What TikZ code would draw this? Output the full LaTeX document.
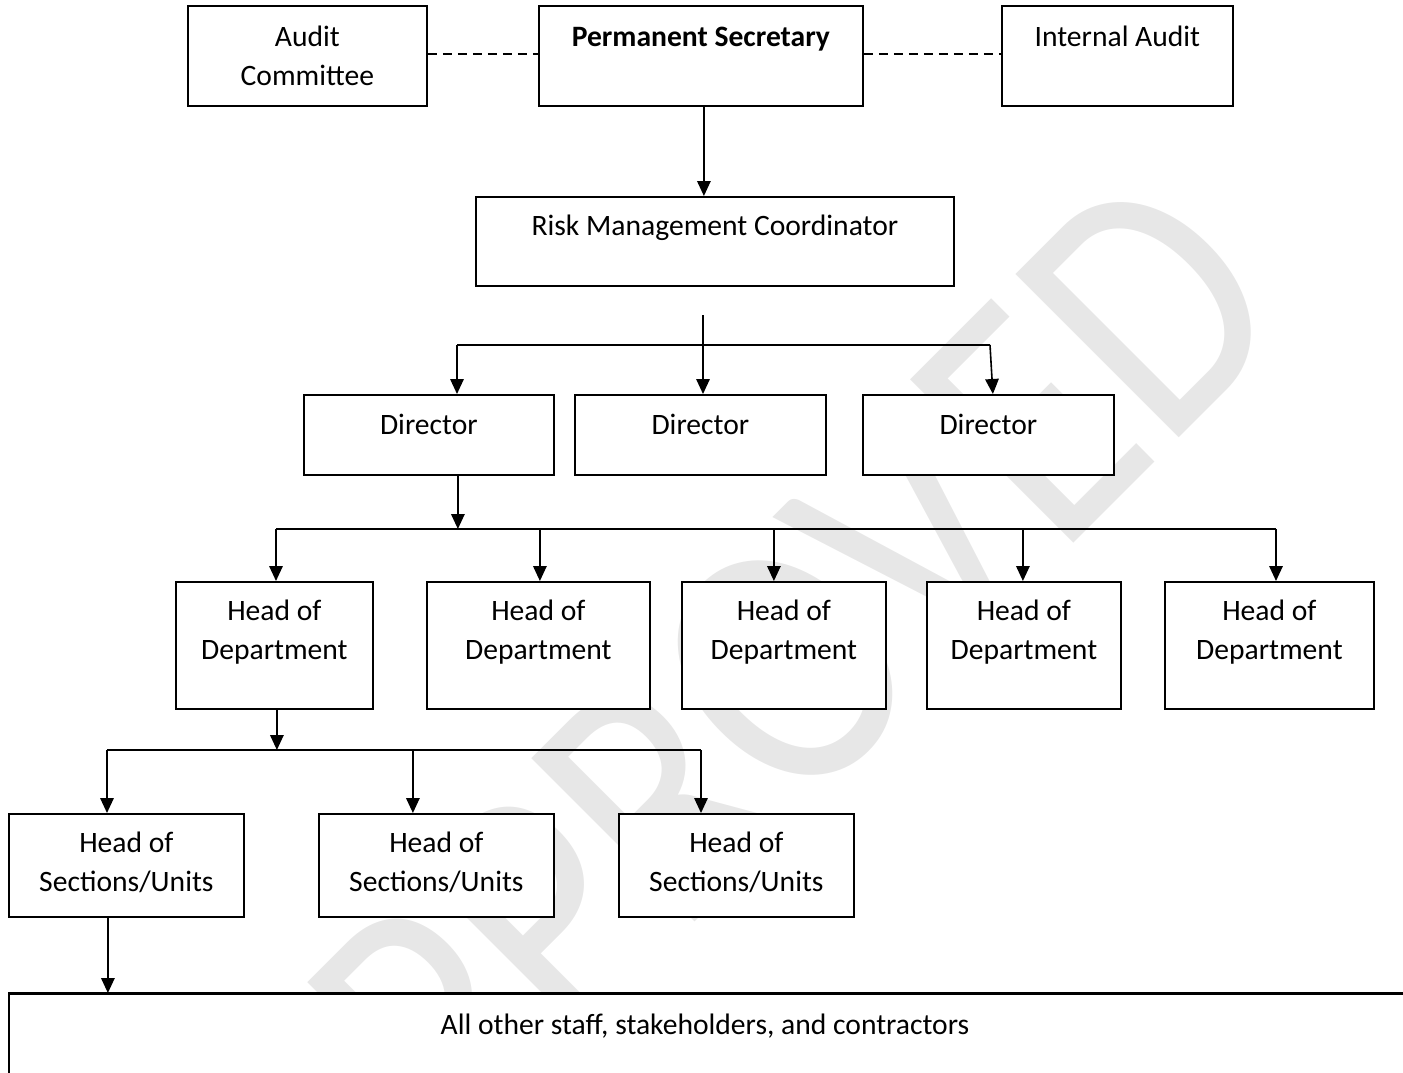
\documentclass[tikz,border=0pt]{standalone}
\usepackage{graphicx}
\usepackage{fontspec}
\setmainfont{Carlito}
\usetikzlibrary{arrows.meta}
\definecolor{wm}{RGB}{231,231,231}
\newcommand\twoln[2]{\begin{tabular}[t]{@{}c@{}}#1\\#2\end{tabular}}
\begin{document}
\begin{tikzpicture}[x=1pt,y=-1pt,
  box/.style={draw, line width=1.8pt, fill=white, inner sep=0pt, anchor=north west},
  lbl/.style={anchor=base, inner sep=0pt, font=\fontsize{29.6}{39}\selectfont},
  arr/.style={line width=1.6pt, -{Triangle[length=15pt,width=13.5pt]}},
  ln/.style={line width=1.6pt},
  dsh/.style={line width=1.6pt, dash pattern=on 9pt off 6pt}]
\useasboundingbox (0,0) rectangle (1403,1072);
\clip (0,0) rectangle (1403,1072);
% watermark
\node[font=\fontsize{360}{360}\selectfont, text=wm, rotate=45, anchor=base east, inner sep=0pt] (wmark) at (1297,320) {\scalebox{0.85}[1]{APPROVED}};
% boxes
\node[box, minimum width=239pt, minimum height=100pt] (ac) at (187,5) {};
\node[box, minimum width=324pt, minimum height=100pt] (ps) at (538,5) {};
\node[box, minimum width=231pt, minimum height=100pt] (ia) at (1001,5) {};
\node[box, minimum width=478pt, minimum height=89pt] (rmc) at (475,196) {};
\node[box, minimum width=250pt, minimum height=80pt] (d1) at (303,394) {};
\node[box, minimum width=251pt, minimum height=80pt] (d2) at (574,394) {};
\node[box, minimum width=251pt, minimum height=80pt] (d3) at (862,394) {};
\node[box, minimum width=197pt, minimum height=127pt] (h1) at (175,581) {};
\node[box, minimum width=223pt, minimum height=127pt] (h2) at (426,581) {};
\node[box, minimum width=204pt, minimum height=127pt] (h3) at (681,581) {};
\node[box, minimum width=194pt, minimum height=127pt] (h4) at (926,581) {};
\node[box, minimum width=209pt, minimum height=127pt] (h5) at (1164,581) {};
\node[box, minimum width=235pt, minimum height=103pt] (s1) at (8,813) {};
\node[box, minimum width=235pt, minimum height=103pt] (s2) at (318,813) {};
\node[box, minimum width=235pt, minimum height=103pt] (s3) at (618,813) {};
\node[box, minimum width=1420pt, minimum height=100pt] (all) at (8,993) {};
\draw[line width=3pt] (all.north west) -- (all.north east);
% labels
\node[lbl] (acT) at ([yshift=-41pt]ac.north) {\twoln{Audit}{Committee}};
\node[lbl] (psT) at ([yshift=-41pt]ps.north) {\bfseries Permanent Secretary};
\node[lbl] (iaT) at ([yshift=-41pt]ia.north) {Internal Audit};
\node[lbl] (rmcT) at ([yshift=-39pt]rmc.north) {Risk Management Coordinator};
\node[lbl] (d1T) at ([yshift=-40pt]d1.north) {Director};
\node[lbl] (d2T) at ([yshift=-40pt]d2.north) {Director};
\node[lbl] (d3T) at ([yshift=-40pt]d3.north) {Director};
\foreach \n in {h1,h2,h3,h4,h5}{
  \node[lbl] (\n T) at ([yshift=-39pt]\n.north) {\twoln{Head of}{Department}};
}
\foreach \n in {s1,s2,s3}{
  \node[lbl] (\n T) at ([yshift=-39pt]\n.north) {\twoln{Head of}{Sections/Units}};
}
\node[lbl] (allT) at (705,1034) {All other staff, stakeholders, and contractors};
% dashed links
\draw[dsh] ([yshift=2pt]ac.east) -- ([yshift=2pt]ps.west);
\draw[dsh] ([yshift=2pt]ps.east) -- ([yshift=2pt]ia.west);
% PS -> RMC
\draw[arr] ([xshift=3pt]ps.south) -- ([xshift=3pt]ps.south |- rmc.north);
% RMC -> Directors
\coordinate (c1) at (703,315);
\coordinate (b1L) at (457,345);
\coordinate (b1R) at (990,345);
\draw[ln] (b1L) -- (b1R);
\draw[arr] (c1) -- (c1 |- d2.north);
\draw[arr] (b1L) -- (b1L |- d1.north);
\draw[arr] (b1R) -- ([xshift=4.5pt]d3.north);
% Director -> HoDs
\coordinate (b2L) at (276,529);
\coordinate (b2R) at (1276,529);
\draw[arr] ([xshift=29pt]d1.south) -- ([xshift=29pt]d1.south |- b2L);
\draw[ln] (b2L) -- (b2R);
\draw[arr] (b2L) -- (b2L |- h1.north);
\draw[arr] ([xshift=1.5pt]h2.north |- b2L) -- ([xshift=1.5pt]h2.north);
\draw[arr] ([xshift=-10pt]h3.north |- b2L) -- ([xshift=-10pt]h3.north);
\draw[arr] ([xshift=-1pt]h4.north |- b2L) -- ([xshift=-1pt]h4.north);
\draw[arr] (b2R) -- (b2R |- h5.north);
% HoD -> HoS
\coordinate (b3L) at (107,750);
\coordinate (b3R) at (701,750);
\draw[arr] ([xshift=2.5pt]h1.south) -- ([xshift=2.5pt]h1.south |- b3L);
\draw[ln] (b3L) -- (b3R);
\draw[arr] (b3L) -- (b3L |- s1.north);
\draw[arr] ([xshift=-23.5pt]s2.north |- b3L) -- ([xshift=-23.5pt]s2.north);
\draw[arr] (b3R) -- (b3R |- s3.north);
% HoS -> all
\draw[arr] ([xshift=-18.5pt]s1.south) -- ([xshift=-18.5pt]s1.south |- all.north);
\end{tikzpicture}
\end{document}
